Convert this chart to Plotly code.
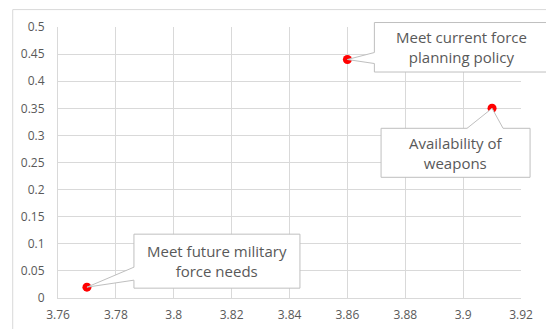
import plotly.graph_objects as go

# Scatter data: mean rating (x) vs. share (y) for each planning factor
factors = [
    "Meet future military<br>force needs",
    "Meet current force<br>planning policy",
    "Availability of<br>weapons",
]
x_vals = [3.77, 3.86, 3.91]
y_vals = [0.02, 0.44, 0.35]

x_ticks = [3.76, 3.78, 3.80, 3.82, 3.84, 3.86, 3.88, 3.90, 3.92]
y_ticks = [0, 0.05, 0.10, 0.15, 0.20, 0.25, 0.30, 0.35, 0.40, 0.45, 0.50]

X_RANGE = [3.76, 3.92]
Y_RANGE = [0, 0.5]

GRID = "#D9D9D9"
TEXT = "#595959"
FONT = "'Open Sans', Lato, sans-serif"

# Callout geometry in pixels relative to each point (y positive = up):
# box (x0, x1, y0, y1), wedge base points ((bx1, by1), (bx2, by2)), inward direction
callouts = [
    dict(box=(47, 213, -1, 53), base=((47, 20), (47, 7)), inward=(2, 0)),
    dict(box=(27, 201, -12.5, 37), base=((27, 7), (27, -4)), inward=(2, 0)),
    dict(box=(-111, 38, -69, -20), base=((-25, -20), (11, -20)), inward=(0, -2)),
]

fig = go.Figure()
fig.add_trace(go.Scatter(
    x=x_vals, y=y_vals, mode="markers",
    marker=dict(color="#FF0000", size=9, line=dict(width=0)),
    showlegend=False, hoverinfo="skip",
))


def to_paper(v, rng):
    return (v - rng[0]) / (rng[1] - rng[0])


shapes = []
annotations = []
for name, xv, yv, c in zip(factors, x_vals, y_vals, callouts):
    px = to_paper(xv, X_RANGE)
    py = to_paper(yv, Y_RANGE)
    common = dict(xref="paper", yref="paper", xsizemode="pixel", ysizemode="pixel",
                  xanchor=px, yanchor=py, layer="above")
    bx0, bx1, by0, by1 = c["box"]
    shapes.append(dict(type="rect", x0=bx0, x1=bx1, y0=by0, y1=by1,
                       fillcolor="white", line=dict(color="#BFBFBF", width=1), **common))
    (ax, ay), (cx, cy) = c["base"]
    dx, dy = c["inward"]
    fill_path = (f"M0,0 L{ax},{ay} L{ax+dx},{ay+dy} L{cx+dx},{cy+dy} L{cx},{cy} Z")
    shapes.append(dict(type="path", path=fill_path, fillcolor="white",
                       line=dict(width=0), **common))
    outline = f"M{ax},{ay} L0,0 L{cx},{cy}"
    shapes.append(dict(type="path", path=outline, fillcolor="rgba(0,0,0,0)",
                       line=dict(color="#BFBFBF", width=1), **common))
    annotations.append(dict(
        x=xv, y=yv, xref="x", yref="y", text=name, showarrow=False,
        xshift=(bx0 + bx1) / 2, yshift=(by0 + by1) / 2,
        font=dict(family=FONT, size=15, color=TEXT), align="center",
    ))

# Chart-area border
shapes.insert(0, dict(type="rect", xref="paper", yref="paper",
                      x0=-0.0978, x1=1.2, y0=-0.3, y1=1.0642,
                      line=dict(color=GRID, width=1), fillcolor="rgba(0,0,0,0)",
                      layer="below"))

axis_common = dict(
    showgrid=True, gridcolor=GRID, gridwidth=1,
    showline=True, linecolor=GRID, linewidth=1, zeroline=False,
    ticks="", automargin=False,
    tickfont=dict(family=FONT, size=12, color=TEXT),
)

fig.update_layout(
    width=546, height=329,
    margin=dict(l=58, r=25, t=27, b=31),
    paper_bgcolor="white", plot_bgcolor="white",
    font=dict(family=FONT, size=12, color=TEXT),
    shapes=shapes, annotations=annotations,
    xaxis=dict(range=X_RANGE, tickvals=x_ticks, ticktext=[f"{v:g}" for v in x_ticks],
               ticklabelstandoff=6, **axis_common),
    yaxis=dict(range=Y_RANGE, tickvals=y_ticks, ticktext=[f"{v:g}" for v in y_ticks],
               ticklabelstandoff=10, **axis_common),
)

fig.write_html("out.html")
